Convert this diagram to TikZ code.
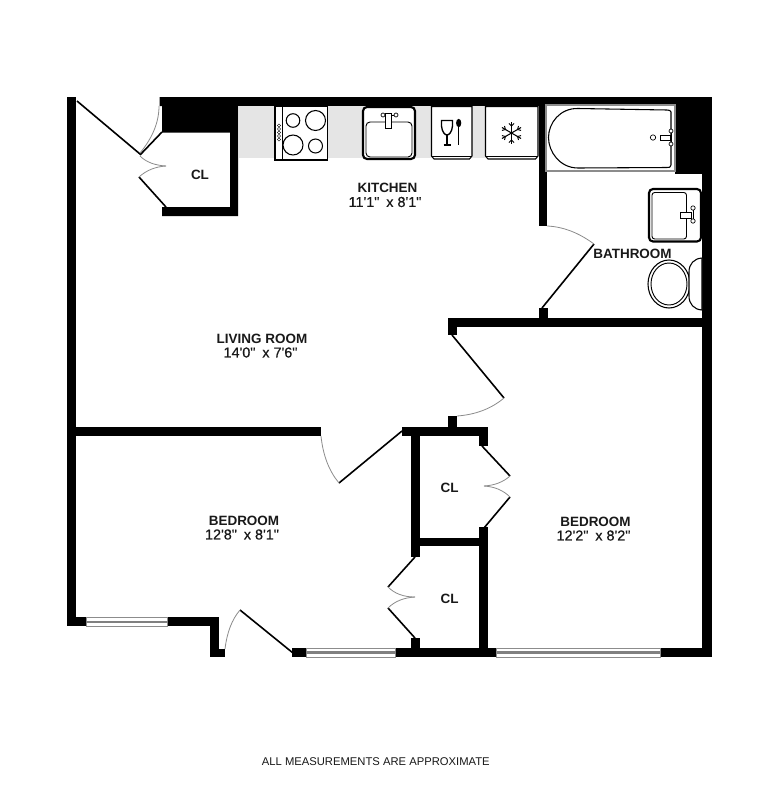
\documentclass[tikz,border=0pt]{standalone}
\usepackage{fontspec}
\usetikzlibrary{calc}
\newfontfamily\labfont{Liberation Sans}
\newfontfamily\dimfont[FakeBold=0.5]{Liberation Sans}
\tikzset{
  wall/.style={fill=black,draw=none},
  door/.style={draw=black,line width=1.2pt},
  swing/.style={draw=black!45,line width=0.6pt},
  fixture/.style={draw=black,line width=0.8pt,fill=white},
  tap/.style={draw=black,line width=0.5pt,fill=white},
  heavy/.style={draw=black,line width=1.6pt,fill=white},
  thin/.style={draw=black,line width=0.7pt},
  glaze/.style={draw=black!45,line width=0.5pt,fill=white},
  pane/.style={fill=black!50,draw=none},
  counter/.style={fill=black!10,draw=none},
  room/.style={font=\labfont\bfseries\fontsize{10.1}{12}\selectfont,inner sep=0pt,text=black!90},
  dim/.style={font=\dimfont\fontsize{10.8}{12}\selectfont,inner sep=0pt,text=black!90},
  note/.style={font=\labfont\fontsize{8.43}{10}\selectfont,inner sep=0pt,text=black!90}
}
\newcommand{\win}[3]{% x1, x2, top y
  \path[glaze] (#1,#3) rectangle (#2,#3+9);
  \path[pane] (#1,#3+3.4) rectangle (#2,#3+5.6);
}
\newcommand{\qswing}[3]{% start, pull, end: a quadratic curve
  \draw[swing] #1 .. controls ($#1!0.667!#2$) and ($#3!0.667!#2$) .. #3;
}
\begin{document}
\begin{tikzpicture}[x=0.75pt,y=-0.75pt]
\useasboundingbox (0,0) rectangle (778,800);
\fill[white] (0,0) rectangle (778,800);

% kitchen counter
\path[counter] (239,106) rectangle (538,158);

% walls
\path[wall] (67,97) rectangle (76,626);
\path[wall] (67,617) rectangle (219,626);
\path[wall] (210,617) rectangle (219,657);
\path[wall] (210,648.5) rectangle (224.5,657);
\path[wall] (292,648) rectangle (711.5,657);
\path[wall] (160,97) rectangle (711.5,106);
\path[wall] (702,97) rectangle (711.5,657);
\path[wall] (159.5,97) -- (238,97) -- (238,216) -- (162,216) -- (162,207) -- (230,207) -- (230,132.5) -- (162,132.5) -- (162,106) -- (159.5,106) -- cycle;
\path[wall] (538.5,100) rectangle (547,226);
\path[wall] (675,100) rectangle (705,173.5);
\path[wall] (448,318) rectangle (702,326.5);
\path[wall] (448,318) rectangle (457,335);
\path[wall] (539,308) rectangle (547.5,320);
\path[wall] (76,427) rectangle (321,436);
\path[wall] (402,427) rectangle (488,436);
\path[wall] (448,416) rectangle (457,430);
\path[wall] (411,430) rectangle (420,557);
\path[wall] (479,427) rectangle (488,446);
\path[wall] (479,527) rectangle (488,650);
\path[wall] (420,537.5) rectangle (480,546);
\path[wall] (411,638) rectangle (420,650);

% windows
\win{86}{167.5}{617.5}
\win{306}{395.5}{648}
\win{496.5}{660}{648}

% doors
\draw[door] (77,101) -- (140,154);
\qswing{(140,153)}{(159,130)}{(159,106)}
\draw[door] (162,132) -- (140,155);
\draw[door] (166,207) -- (139,177);
\qswing{(140,156)}{(149,165)}{(166,166)}
\qswing{(139,177)}{(150,167)}{(166,166)}
\draw[door] (542,308) -- (594,244);
\qswing{(547,226)}{(571,227)}{(594,244)}
\draw[door] (452,335) -- (504,398);
\qswing{(504,398)}{(485,414)}{(457,416)}
\draw[door] (402,431) -- (339,483);
\qswing{(321,436)}{(324,465)}{(339,483)}
\draw[door] (240,610) -- (293,653);
\qswing{(225,649)}{(228,624)}{(240,610)}
\draw[door] (482,446) -- (510,476);
\draw[door] (510,497) -- (484,528);
\qswing{(510,476)}{(500,485)}{(484,486)}
\qswing{(510,497)}{(500,487)}{(484,486)}
\draw[door] (415,557) -- (388,587);
\draw[door] (388,608) -- (415,638);
\qswing{(388,587)}{(398,597)}{(415,597)}
\qswing{(388,608)}{(398,598)}{(415,597)}

% stove
\path[fixture] (275,106.5) rectangle (327.5,160);
\draw[thin] (282.5,106.5) -- (282.5,160);
\draw[fixture] (293,120.5) circle (6.8);
\draw[fixture] (315.5,120.5) circle (10);
\draw[fixture] (293,145) circle (10);
\draw[fixture] (315.5,146) circle (7);
\foreach \k in {125.5,129,132.5,136,139.5}
  \draw[black,line width=0.3pt] (279,\k) circle (1.6);

% kitchen sink
\path[heavy,rounded corners=3] (363,107) rectangle (415,159);
\path[thin,fill=white,rounded corners=3] (366,122) rectangle (412,157);
\draw[tap] (383,115) -- (396,115);
\draw[tap] (383,115) circle (2);
\draw[tap] (396,115) circle (2);
\path[tap] (385.5,113) rectangle (391.5,128);

% dishwasher and fridge
\path[fixture] (431.5,106.5) -- (431.5,156) -- (434,159) -- (469.5,159) -- (472,156) -- (472,106.5) -- cycle;
\draw[thin] (431.5,156.5) -- (472,156.5);
\path[fixture] (485.5,106.5) -- (485.5,156) -- (488,159) -- (535.5,159) -- (538,156) -- (538,106.5) -- cycle;
\draw[thin] (485.5,156.5) -- (538,156.5);
% glass and spoon
\draw[thin,line width=1pt] (441.5,120.5) -- (452.5,120.5) -- (452.5,126) .. controls (452,132) and (449,135) .. (447,135) .. controls (445,135) and (442,132) .. (441.5,126) -- cycle;
\draw[thin,line width=1pt] (447,135) -- (447,145) (443.5,145) -- (450.5,145);
\fill[black] (458.7,123) ellipse (2.6 and 4.2);
\draw[thin,line width=1.1pt] (458.7,125) -- (458.7,145);
% snowflake
\foreach \a in {30,90,150,210,270,330}{
  \draw[black,line width=0.8pt] (511.5,133) -- ++(\a:11);
  \draw[black,line width=0.7pt] (511.5,133) ++(\a:7) -- ++(\a+45:3.6);
  \draw[black,line width=0.7pt] (511.5,133) ++(\a:7) -- ++(\a-45:3.6);
}

% bathtub
\path[glaze,line width=0.8pt] (546,105) rectangle (675,171);
\draw[fixture] (671,112) -- (671,165) .. controls (671,167) and (669,168) .. (667,167.5) -- (578,168) .. controls (560,168) and (548.5,152) .. (548.5,137.5) .. controls (548.5,123) and (560,108) .. (578,108.5) -- (667,110) .. controls (669,110) and (671,110.5) .. (671,112) -- cycle;
\draw[tap] (653,137.5) circle (2.7);
\path[tap] (660,135) rectangle (670,140);
\draw[tap] (671,131) -- (671,144);
\draw[tap] (671,131) circle (2);
\draw[tap] (671,144) circle (2);

% bathroom sink
\path[heavy,rounded corners=3] (649,189) rectangle (701,241.5);
\path[thin,fill=white,rounded corners=2] (652,192.5) rectangle (686.5,239);
\path[tap] (680,212) rectangle (691,218.5);
\draw[tap] (693,208) -- (693,221);
\draw[tap] (693,208) circle (2.2);
\draw[tap] (693,221) circle (2.2);

% toilet
\draw[fixture] (669,284) ellipse (21 and 24);
\draw[thin] (669,284) ellipse (18 and 21);
\path[fixture] (702,258) .. controls (694,258.5) and (689,264) .. (689,272) -- (689,296) .. controls (689,304) and (694,309.5) .. (702,310) -- cycle;

% labels
\node[room] (clA) at (200,175) {CL};
\node[room] (kitchen) at (387.5,188) {KITCHEN};
\node[dim] (kitchenD) at (385,202) {11'1"\hspace{0.48em}x 8'1"};
\node[room] (bath) at (632.5,254) {BATHROOM};
\node[room] (living) at (262,339) {LIVING ROOM};
\node[dim] (livingD) at (260.5,352.5) {14'0"\hspace{0.48em}x 7'6"};
\node[room] (bedA) at (244,521) {BEDROOM};
\node[dim] (bedAD) at (242,534.5) {12'8"\hspace{0.48em}x 8'1"};
\node[room] (bedB) at (595.5,522) {BEDROOM};
\node[dim] (bedBD) at (593.5,535.5) {12'2"\hspace{0.48em}x 8'2"};
\node[room] (clB) at (449.5,488) {CL};
\node[room] (clC) at (449.5,598.5) {CL};
\node[note] (noteA) at (375.8,762) {ALL MEASUREMENTS ARE APPROXIMATE};
\end{tikzpicture}
\end{document}
